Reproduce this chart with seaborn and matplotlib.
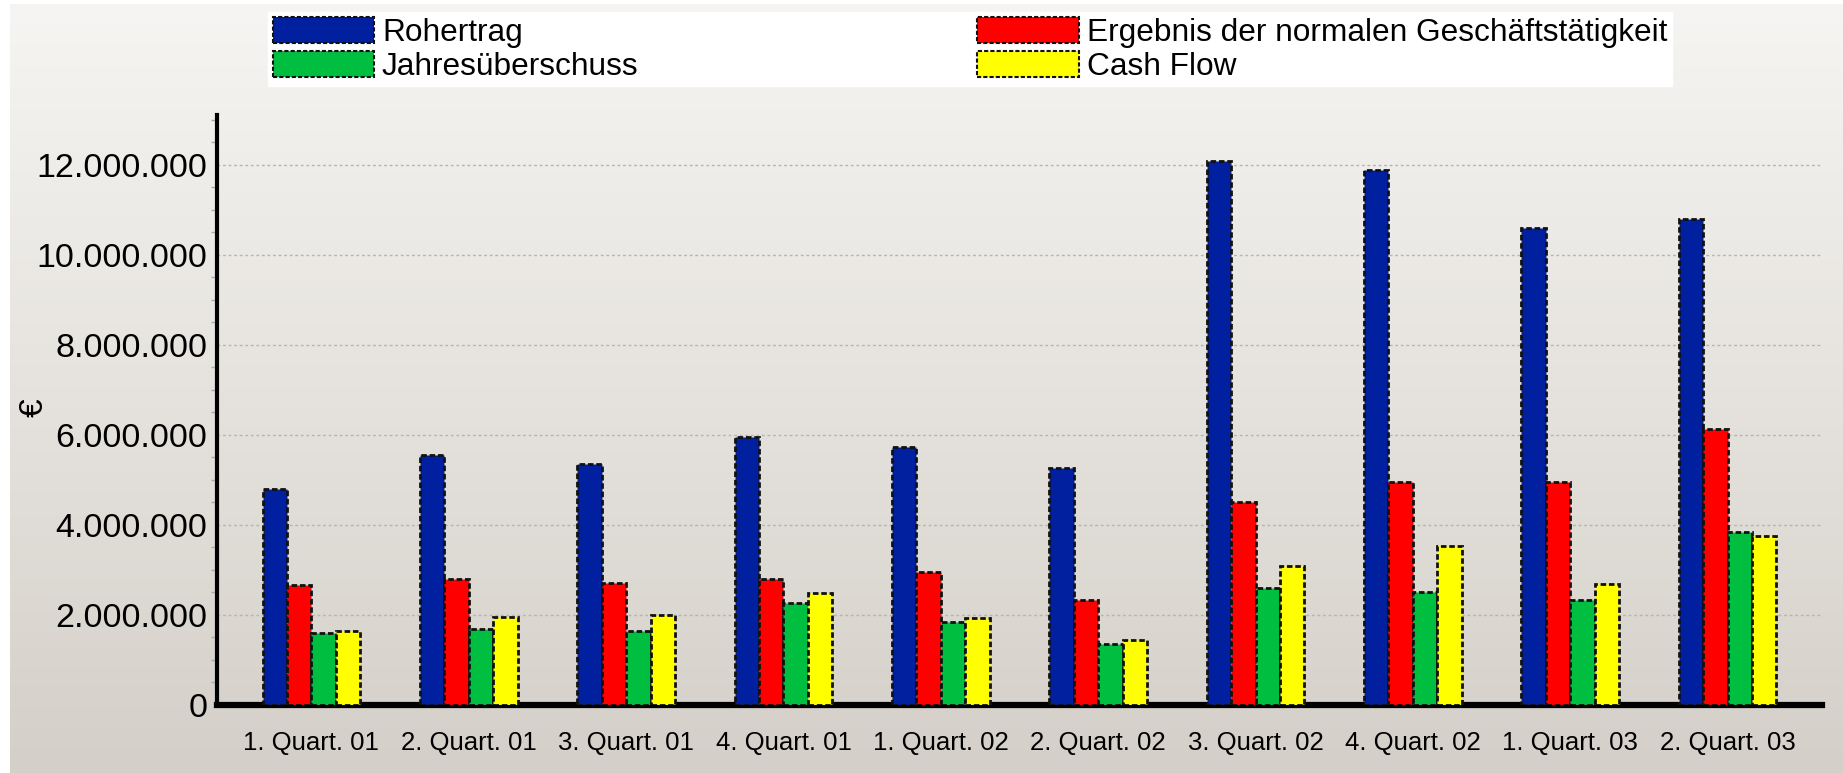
"""
Quartalskennzahlen als gruppiertes Säulendiagramm (seaborn).
"""

import numpy as np
import pandas as pd
import matplotlib
matplotlib.use("Agg")
import matplotlib.pyplot as plt
from matplotlib.colors import LinearSegmentedColormap
from matplotlib.patches import Patch
from matplotlib.ticker import FuncFormatter, MultipleLocator
import seaborn as sns

# ── Daten ─────────────────────────────────────────────────────────────────────
quartale = ["1. Quart. 01", "2. Quart. 01", "3. Quart. 01", "4. Quart. 01",
            "1. Quart. 02", "2. Quart. 02", "3. Quart. 02", "4. Quart. 02",
            "1. Quart. 03", "2. Quart. 03"]
rohertrag = [4800000, 5560000, 5340000, 5960000, 5730000,
             5270000, 12080000, 11880000, 10580000, 10800000]
ergebnis = [2670000, 2800000, 2700000, 2790000, 2960000,
            2330000, 4510000, 4960000, 4960000, 6120000]
jahresueberschuss = [1600000, 1690000, 1640000, 2260000, 1850000,
                     1360000, 2590000, 2500000, 2330000, 3840000]
cash_flow = [1640000, 1960000, 2000000, 2480000, 1940000,
             1440000, 3090000, 3530000, 2680000, 3750000]

serien = ["Rohertrag", "Ergebnis der normalen Geschäftstätigkeit",
          "Jahresüberschuss", "Cash Flow"]
farben = {"Rohertrag": "#00209f",
          "Ergebnis der normalen Geschäftstätigkeit": "#ff0000",
          "Jahresüberschuss": "#00be40",
          "Cash Flow": "#ffff00"}

df = pd.DataFrame({"Quartal": quartale * 4,
                   "Kennzahl": np.repeat(serien, len(quartale)),
                   "Wert": rohertrag + ergebnis + jahresueberschuss + cash_flow})

# ── Figur ─────────────────────────────────────────────────────────────────────
sns.set_style("white")
plt.rcParams["font.family"] = ["Liberation Sans", "DejaVu Sans"]
plt.rcParams["text.color"] = "black"
plt.rcParams["xtick.labelcolor"] = "black"
plt.rcParams["ytick.labelcolor"] = "black"

W, H = 1843, 773
fig = plt.figure(figsize=(W / 100, H / 100), dpi=100)

# Hintergrund mit Verlauf
bg = fig.add_axes([0, 0, 1, 1], zorder=-10)
cmap = LinearSegmentedColormap.from_list("bg", ["#f6f5f3", "#e6e3de", "#d4cfc8"])
bg.imshow(np.linspace(0, 1, 256).reshape(-1, 1), aspect="auto", cmap=cmap,
          extent=[0, 1, 0, 1])
bg.add_patch(plt.Rectangle((0, 0), 10 / W, 1, color="white", lw=0))
bg.add_patch(plt.Rectangle((0, 1 - 4 / H), 1, 4 / H, color="white", lw=0))
bg.set_xlim(0, 1)
bg.set_ylim(0, 1)
bg.axis("off")

ax = fig.add_axes([217 / W, 1 - 705 / H, (1822 - 217) / W, (705 - 115) / H])
ax.set_facecolor("none")

sns.barplot(data=df, x="Quartal", y="Wert", hue="Kennzahl", hue_order=serien,
            palette=farben, saturation=1, width=0.62, ax=ax, legend=False,
            zorder=3)

for bar in ax.patches:
    bar.set_edgecolor("#111111")
    bar.set_linewidth(2)
    bar.set_linestyle((0, (2, 1)))

ax.set_xlim(-0.6, 9.6)
ax.set_ylim(0, 13100000)
ax.set_xlabel("")
ax.set_ylabel("")

ax.yaxis.set_major_locator(MultipleLocator(2000000))
ax.yaxis.set_minor_locator(MultipleLocator(500000))
ax.yaxis.set_major_formatter(FuncFormatter(lambda v, p: f"{int(v):,}".replace(",", ".")))
ax.grid(axis="y", which="major", color="#b4b4b4", linestyle=(0, (2, 2)),
        linewidth=1, zorder=0)
ax.set_axisbelow(True)

ax.tick_params(axis="y", which="major", labelsize=24.5, length=5, width=1,
               color="#888888", pad=2, labelcolor="black")
ax.tick_params(axis="y", which="minor", left=True, length=4, width=1,
               color="#aaaaaa")
ax.tick_params(axis="x", labelsize=18.5, length=7, width=1,
               color="#999999", pad=12, labelcolor="black")

for side in ["top", "right"]:
    ax.spines[side].set_visible(False)
ax.spines["left"].set_linewidth(3)
ax.spines["left"].set_color("black")
ax.spines["bottom"].set_linewidth(4.5)
ax.spines["bottom"].set_color("black")

fig.text(34 / W, 1 - 408 / H, "€", rotation=90, fontsize=24,
         ha="center", va="center", color="black")

# Legende, zeilenweise gefüllt
handles = [Patch(facecolor=farben[s], edgecolor="#111111", linewidth=1.5,
                 linestyle=(0, (2, 1))) for s in serien]
order = [0, 2, 1, 3]
leg = fig.legend([handles[i] for i in order], [serien[i] for i in order],
                 ncol=2, loc="upper left", bbox_to_anchor=(268 / W, 1 - 12 / H),
                 frameon=True, fancybox=False, framealpha=1, edgecolor="white",
                 facecolor="white", fontsize=22.8, handlelength=3.2,
                 handleheight=0.88, handletextpad=0.25, columnspacing=10.7,
                 labelspacing=0.1, borderpad=0.15, borderaxespad=0,
                 labelcolor="black")

fig.savefig("out.png", dpi=100)
plt.close(fig)
